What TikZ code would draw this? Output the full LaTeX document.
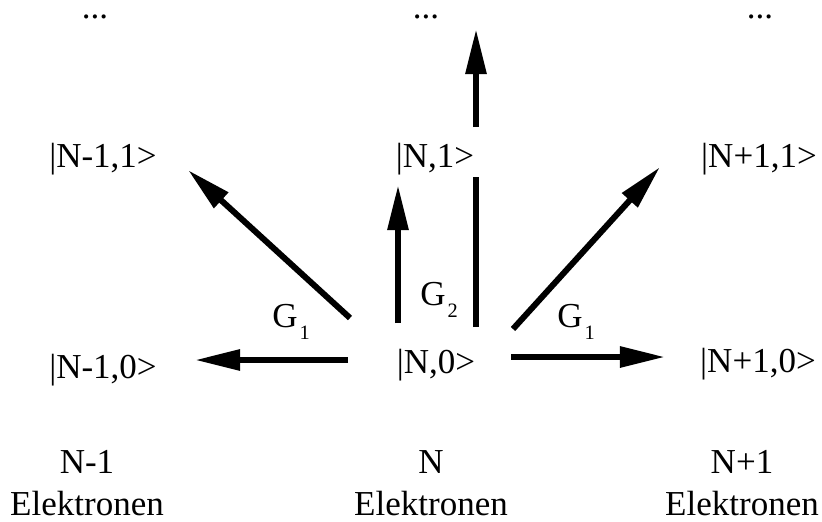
\documentclass[tikz,border=0pt]{standalone}
\usepackage{fontspec}
\setmainfont{Liberation Serif}
\usetikzlibrary{arrows.meta, positioning}
\definecolor{linecol}{RGB}{0, 0, 0}
\tikzset{
  state/.style = {anchor=base, inner sep=0pt, font=\fontsize{24.9}{30}\selectfont},
  count/.style = {state},
  coup/.style  = {anchor=base west, inner sep=0pt,
                  font=\fontsize{24.9}{30}\selectfont},
  leg/.style   = {draw=linecol, line width=0.15cm},
  hop/.style   = {leg, -{Triangle[length=1.125cm, width=0.5cm]}},
}
% coupling constant with its low index
\newcommand{\gc}[1]{G\kern1.5pt\raisebox{-0.36em}{\fontsize{14.5}{15}\selectfont #1}}

\begin{document}
\begin{tikzpicture}[x=0.025cm, y=-0.025cm]

  \useasboundingbox (0,0) rectangle (822,521);

  %% ---------------- states, one column per electron number ----------------
  \foreach \x/\xd/\id/\txt in {103/95/m/N-1, 435/426/z/N, 759/760/p/N+1} {
    \node[state] (dots\id) at (\xd,18) {...};
    \node[state] (\id1) at (\x,167) {|\txt,1>};
  }
  \node[state] (m0) at (103,378) {|N-1,0>};
  \node[state] (z0) at (436,373) {|N,0>};
  \node[state] (p0) at (758,372) {|N+1,0>};

  %% ---------------- electron numbers ----------------
  \foreach \x/\id/\txt in {87/m/N-1, 431/z/N, 742/p/N+1} {
    \node[count] (cnt\id) at (\x,473) {\txt};
    \node[count] (el\id) at (\x,515) {Elektronen};
  }

  %% ---------------- transitions out of |N,0> ----------------
  \coordinate (tailL)  at (348,360);  \coordinate (tipL)  at (195,360);
  \coordinate (tailLU) at (350,318);  \coordinate (tipLU) at (188,170);
  \coordinate (tailU)  at (398,323);  \coordinate (tipU)  at (398,185);
  \coordinate (tailUU) at (476,327);  \coordinate (gapLo) at (476,177);
  \coordinate (gapHi)  at (476,127);  \coordinate (tipUU) at (476,29);
  \coordinate (tailRU) at (513,329);  \coordinate (tipRU) at (660,167);
  \coordinate (tailR)  at (511,357);  \coordinate (tipR)  at (665,357);

  \draw[hop] (tailL) -- (tipL);
  \draw[hop] (tailLU) -- (tipLU);
  \draw[hop] (tailU) -- (tipU);
  \draw[leg] (tailUU) -- (gapLo);
  \draw[hop] (gapHi) -- (tipUU);
  \draw[hop] (tailRU) -- (tipRU);
  \draw[hop] (tailR) -- (tipR);

  %% ---------------- couplings ----------------
  \node[coup] (gl) at (272,327) {\gc{1}};
  \node[coup] (gz) at (420,305) {\gc{2}};
  \node[coup] (gr) at (557,327) {\gc{1}};

\end{tikzpicture}
\end{document}
